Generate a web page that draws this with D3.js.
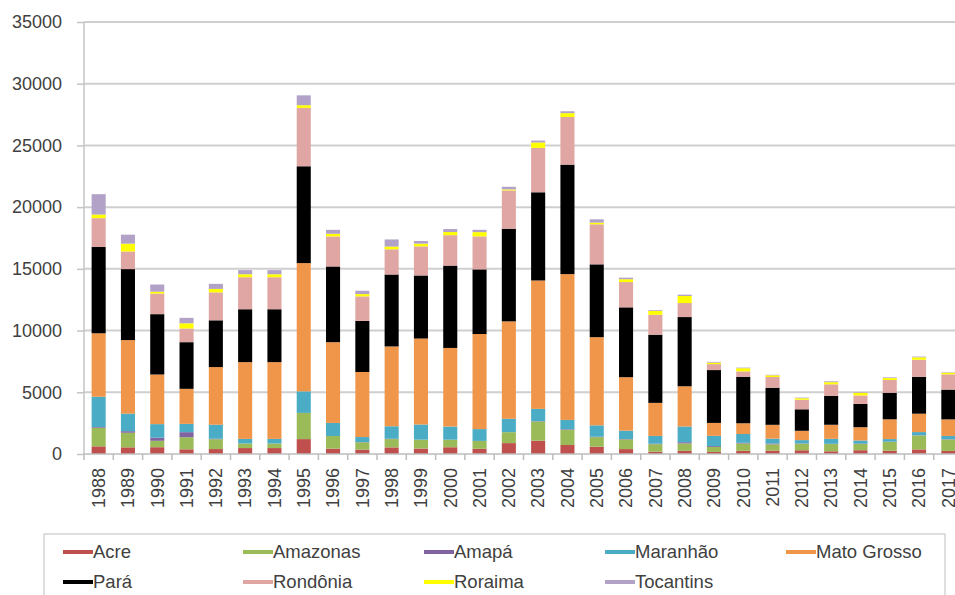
<!DOCTYPE html>
<html lang="pt">
  <head>
    <meta charset="utf-8">
    <title>Desmatamento por estado</title>
    <script src="https://cdn.jsdelivr.net/npm/d3@7"></script>
    <style>
      body { margin: 0; background: #fff; }
      svg { display: block; font-family: "Liberation Sans", Arial, sans-serif; }
      .axis text { fill: #404040; font-size: 18px; }
      .axis path { display: none; }
      .axis line { stroke: #c4c4c4; stroke-width: 1.5; }
    </style>
  </head>
  <body>
    <script>
      // years and state series (km2)
      var years = ["1988","1989","1990","1991","1992","1993","1994","1995","1996","1997",
                   "1998","1999","2000","2001","2002","2003","2004","2005","2006","2007",
                   "2008","2009","2010","2011","2012","2013","2014","2015","2016","2017"];

      var acre       = [620,540,550,380,400,482,482,1208,433,358,536,441,547,419,883,1078,728,592,398,184,254,167,259,280,305,221,309,264,372,246];
      var amazonas   = [1510,1180,520,980,799,370,370,2114,1023,589,670,720,612,634,885,1558,1232,775,788,610,604,405,595,502,523,583,500,712,1129,931];
      var amapa      = [60,130,250,410,36,0,0,9,0,18,30,0,0,7,0,25,46,33,30,39,100,70,53,66,27,23,31,25,17,22];
      var maranhao   = [2450,1420,1100,670,1135,372,372,1745,1061,409,1012,1230,1065,958,1085,993,755,922,674,631,1271,828,712,396,269,403,257,209,258,265];
      var matoGrosso = [5140,5960,4020,2840,4674,6220,6220,10391,6543,5271,6466,6963,6369,7703,7892,10405,11814,7145,4333,2678,3258,1049,871,1120,757,1139,1075,1601,1489,1341];
      var para       = [6990,5750,4890,3780,3787,4284,4284,7845,6135,4139,5829,5111,6671,5237,7510,7145,8870,5899,5659,5526,5607,4281,3770,3008,1741,2346,1887,2153,2992,2413];
      var rondonia   = [2340,1430,1670,1110,2265,2595,2595,4730,2432,1986,2041,2358,2465,2673,3099,3597,3858,3244,2049,1611,1136,482,435,865,773,932,684,1030,1376,1236];
      var roraima    = [290,630,150,420,281,240,240,220,214,184,223,220,253,345,84,439,311,133,231,309,574,121,256,141,124,170,219,156,202,132];
      var tocantins  = [1650,730,580,440,409,333,333,797,320,273,576,216,244,189,212,156,158,271,124,63,107,61,49,40,52,74,50,57,58,38];

      var stateNames = ["Acre","Amazonas","Amapá","Maranhão","Mato Grosso","Pará","Rondônia","Roraima","Tocantins"];
      var stateValues = [acre, amazonas, amapa, maranhao, matoGrosso, para, rondonia, roraima, tocantins];
      var stateColors = ["#c0504d","#9bbb59","#8064a2","#4bacc6","#f0964a","#000000","#e0a6a3","#ffff00","#b3a2c7"];
      var yTicks = [0,5000,10000,15000,20000,25000,30000,35000];

      var W = 955, H = 595;
      var plotLeft = 84, plotTop = 22, plotBottom = 454, plotRight = 963;

      // table for the stack
      var table = years.map(function(yr, i) {
        var row = {year: yr};
        stateNames.forEach(function(s, k) { row[s] = stateValues[k][i]; });
        return row;
      });
      var series = d3.stack().keys(stateNames)(table);

      var x = d3.scaleBand()
        .domain(years)
        .range([plotLeft, plotRight])
        .paddingInner(0.52)
        .paddingOuter(0.26);

      var y = d3.scaleLinear()
        .domain([0, 35000])
        .range([plotBottom, plotTop]);

      var svg = d3.select("body").append("svg")
        .attr("width", W)
        .attr("height", H);

      // gridlines
      svg.append("g").selectAll("line")
        .data(yTicks.slice(1))
        .enter().append("line")
        .attr("x1", plotLeft).attr("x2", W)
        .attr("y1", function(d) { return y(d); })
        .attr("y2", function(d) { return y(d); })
        .attr("stroke", "#cfcfcf")
        .attr("stroke-width", 2);

      // y axis
      svg.append("g")
        .attr("class", "axis")
        .attr("transform", "translate(" + plotLeft + ",0)")
        .call(d3.axisLeft(y).tickValues(yTicks).tickSize(7).tickPadding(15).tickFormat(d3.format("d")));

      svg.append("line")
        .attr("x1", plotLeft).attr("x2", plotLeft)
        .attr("y1", plotTop).attr("y2", plotBottom)
        .attr("stroke", "#c4c4c4").attr("stroke-width", 1.5);

      // bars
      svg.append("g").selectAll("g")
        .data(series)
        .enter().append("g")
        .attr("fill", function(d, i) { return stateColors[i]; })
        .selectAll("rect")
        .data(function(d) { return d; })
        .enter().append("rect")
        .attr("x", function(d) { return x(d.data.year); })
        .attr("width", x.bandwidth())
        .attr("y", function(d) { return y(d[1]); })
        .attr("height", function(d) { return y(d[0]) - y(d[1]); });

      // x axis
      var step = x.step();
      svg.append("line")
        .attr("x1", plotLeft).attr("x2", W)
        .attr("y1", plotBottom).attr("y2", plotBottom)
        .attr("stroke", "#bdbdbd").attr("stroke-width", 1.5);

      svg.append("g").selectAll("line")
        .data(years.concat(["end"]))
        .enter().append("line")
        .attr("x1", function(d, i) { return plotLeft + i * step; })
        .attr("x2", function(d, i) { return plotLeft + i * step; })
        .attr("y1", plotBottom).attr("y2", plotBottom + 6)
        .attr("stroke", "#bdbdbd").attr("stroke-width", 1.5);

      var xAxis = svg.append("g")
        .attr("class", "axis")
        .attr("transform", "translate(0," + plotBottom + ")")
        .call(d3.axisBottom(x).tickSize(0));

      xAxis.selectAll("text")
        .attr("transform", "rotate(-90)")
        .attr("text-anchor", "end")
        .attr("x", -14)
        .attr("y", 0)
        .attr("dy", "0.35em");

      // legend
      var legend = svg.append("g");
      legend.append("rect")
        .attr("x", 44).attr("y", 534)
        .attr("width", 901).attr("height", 80)
        .attr("fill", "#fff")
        .attr("stroke", "#d4d4d4")
        .attr("stroke-width", 1.5);

      var colX = [63, 243, 424, 605, 786];
      var rowY = [552, 582];

      var item = legend.selectAll("g.item")
        .data(stateNames)
        .enter().append("g")
        .attr("class", "item")
        .attr("transform", function(d, i) {
          return "translate(" + colX[i % 5] + "," + rowY[Math.floor(i / 5)] + ")";
        });

      item.append("line")
        .attr("x1", 0).attr("x2", 30)
        .attr("y1", 0).attr("y2", 0)
        .attr("stroke", function(d, i) { return stateColors[i]; })
        .attr("stroke-width", 4);

      item.append("text")
        .attr("x", 30)
        .attr("dy", "0.35em")
        .attr("font-size", "18.5px")
        .attr("fill", "#404040")
        .text(function(d) { return d; });
    </script>
  </body>
</html>
